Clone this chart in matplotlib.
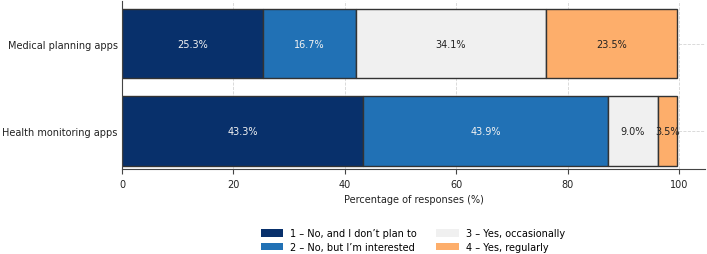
import numpy as np
import matplotlib.pyplot as plt
from matplotlib.patches import Patch

categories = ["Health monitoring apps", "Medical planning apps"]
responses = [
    "1 – No, and I don’t plan to",
    "2 – No, but I’m interested",
    "3 – Yes, occasionally",
    "4 – Yes, regularly",
]
# rows follow categories, columns follow responses
values = np.array([
    [43.3, 43.9, 9.0, 3.5],
    [25.3, 16.7, 34.1, 23.5],
])
colors = ["#08306b", "#2171b5", "#f0f0f0", "#fdae6b"]
text_colors = ["#f2f2f2", "#f2f2f2", "#222222", "#222222"]

fs = 7.0
fig = plt.figure(figsize=(7.07, 2.55), dpi=100)
ax = fig.add_axes([0.1726, 0.333, 0.825, 0.66])

y = np.arange(len(categories))
left = np.zeros(len(categories))
for j, resp in enumerate(responses):
    bars = ax.barh(y, values[:, j], left=left, height=0.8, color=colors[j],
                   edgecolor="#333333", linewidth=1.0, zorder=2)
    for b, v in zip(bars, values[:, j]):
        ax.text(b.get_x() + b.get_width() / 2, b.get_y() + b.get_height() / 2,
                f"{v:.1f}%", ha="center", va="center", color=text_colors[j],
                fontsize=fs, zorder=3)
    left += values[:, j]

ax.set_yticks(y)
ax.set_yticklabels(categories, fontsize=fs, color="#222222")
ax.set_xlim(0, 104.7)
ax.set_ylim(-0.44, 1.49)
ax.set_xticks([0, 20, 40, 60, 80, 100])
ax.tick_params(axis="x", labelsize=fs, labelcolor="#222222", color="#444444")
ax.tick_params(axis="y", length=0, pad=3)
ax.set_xlabel("Percentage of responses (%)", fontsize=fs, color="#222222")
ax.grid(True, linestyle="--", color="#d5d5d5", linewidth=0.6, zorder=0)
ax.set_axisbelow(True)
for s in ["top", "right"]:
    ax.spines[s].set_visible(False)
for s in ["left", "bottom"]:
    ax.spines[s].set_color("#444444")

handles = [Patch(facecolor=c, edgecolor="none") for c in colors]
fig.legend(handles, responses, loc="upper center", bbox_to_anchor=(0.584, 0.135),
           ncol=2, frameon=False, fontsize=fs, handlelength=2.3,
           handletextpad=0.7, columnspacing=2.0, labelspacing=0.35,
           handleheight=0.8)

fig.savefig("out.png", dpi=100)
